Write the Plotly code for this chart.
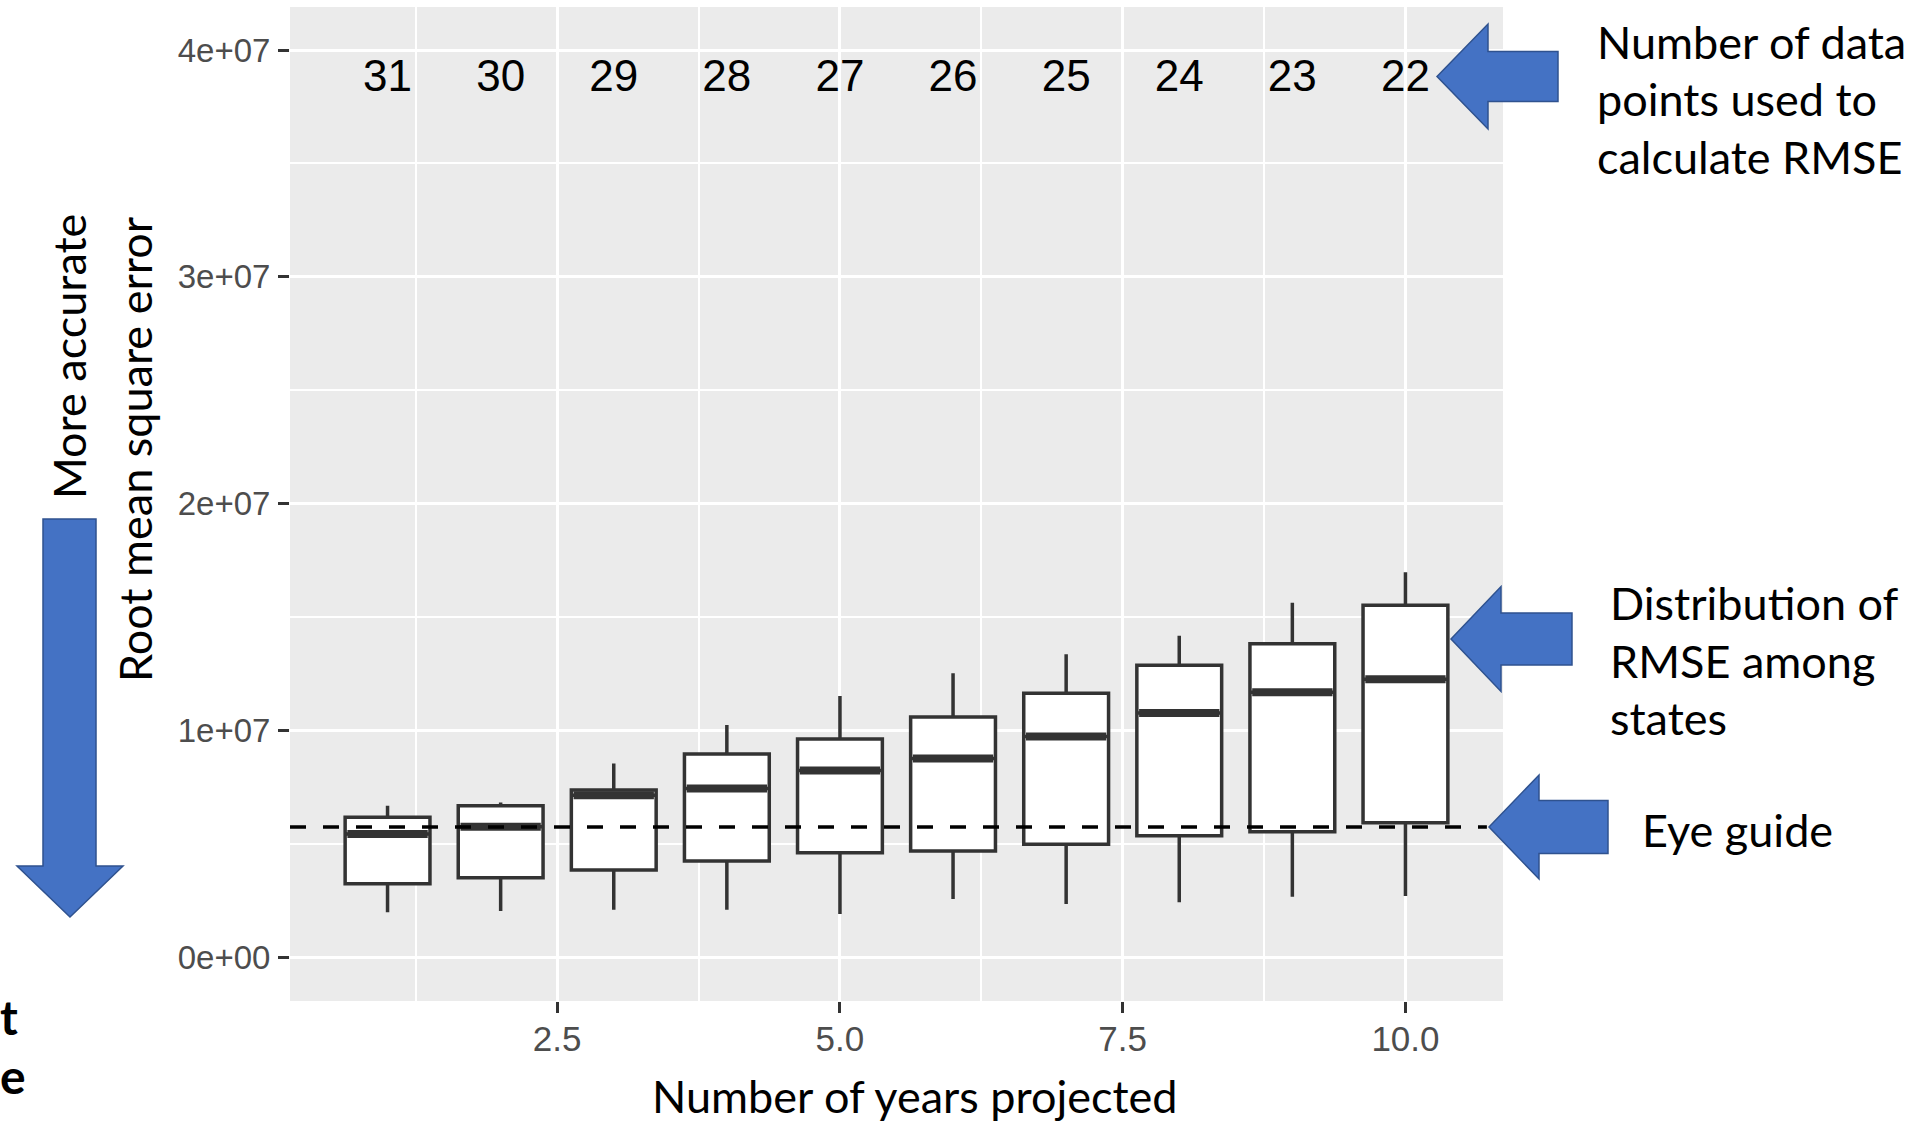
import plotly.graph_objects as go

# Projection horizon (years) and RMSE summary statistics per horizon
years = [1, 2, 3, 4, 5, 6, 7, 8, 9, 10]
n_points = [31, 30, 29, 28, 27, 26, 25, 24, 23, 22]
rmse_lower = [1.97e6, 2.03e6, 2.09e6, 2.09e6, 1.90e6, 2.56e6, 2.34e6, 2.41e6, 2.66e6, 2.69e6]
rmse_q1 = [3.23e6, 3.50e6, 3.84e6, 4.23e6, 4.60e6, 4.68e6, 4.97e6, 5.35e6, 5.53e6, 5.92e6]
rmse_median = [5.43e6, 5.75e6, 7.13e6, 7.43e6, 8.23e6, 8.76e6, 9.73e6, 10.76e6, 11.68e6, 12.25e6]
rmse_q3 = [6.16e6, 6.67e6, 7.37e6, 8.95e6, 9.62e6, 10.59e6, 11.63e6, 12.87e6, 13.82e6, 15.51e6]
rmse_upper = [6.67e6, 6.82e6, 8.54e6, 10.23e6, 11.51e6, 12.51e6, 13.35e6, 14.17e6, 15.63e6, 16.97e6]
eye_guide = 5.73e6
count_label_y = 3.87e7

y_tickvals = [0, 1e7, 2e7, 3e7, 4e7]
y_ticktext = ["0e+00", "1e+07", "2e+07", "3e+07", "4e+07"]
x_tickvals = [2.5, 5.0, 7.5, 10.0]
x_ticktext = ["2.5", "5.0", "7.5", "10.0"]

BOX_W = 0.75
X_RANGE = [0.1375, 10.8625]
Y_RANGE = [-1.94e6, 4.19e7]

# plot-area geometry in page pixels
L, R, T, B = 290, 1503, 7, 1001
W, H = 1918, 1126


def px(x):
    return (x - L) / (R - L)


def py(y):
    return (B - y) / (B - T)


fig = go.Figure()

fig.add_trace(go.Box(
    x=years, q1=rmse_q1, median=rmse_median, q3=rmse_q3,
    lowerfence=rmse_lower, upperfence=rmse_upper,
    width=BOX_W, whiskerwidth=0, boxpoints=False,
    fillcolor="white", line=dict(color="#333333", width=3.5),
    hoverinfo="skip", showlegend=False,
))

# thicker median bars
mx, my = [], []
for x, m in zip(years, rmse_median):
    mx += [x - BOX_W / 2 + 0.02, x + BOX_W / 2 - 0.02, None]
    my += [m, m, None]
fig.add_trace(go.Scatter(x=mx, y=my, mode="lines",
                         line=dict(color="#333333", width=8),
                         hoverinfo="skip", showlegend=False))

# dashed reference line
fig.add_trace(go.Scatter(x=[X_RANGE[0], 10.72], y=[eye_guide, eye_guide], mode="lines",
                         line=dict(color="black", width=3.5, dash="16px,17px"),
                         hoverinfo="skip", showlegend=False))

# sample counts above each box
fig.add_trace(go.Scatter(x=years, y=[count_label_y] * len(years), mode="text",
                         text=[str(n) for n in n_points],
                         textfont=dict(family="Liberation Sans, Arial", size=44, color="black"),
                         hoverinfo="skip", showlegend=False))

grid = dict(showgrid=True, gridcolor="white", zeroline=False, showline=False)
fig.update_xaxes(range=X_RANGE, tickvals=x_tickvals, ticktext=x_ticktext,
                 ticks="outside", ticklen=11, tickwidth=2.5, tickcolor="#333333",
                 gridwidth=3, ticklabelstandoff=-4,
                 tickfont=dict(family="Liberation Sans, Arial", size=35, color="#4D4D4D"),
                 minor=dict(tickvals=[1.25, 3.75, 6.25, 8.75], showgrid=True,
                            gridcolor="white", gridwidth=1.5, ticks=""),
                 **grid)
fig.update_yaxes(range=Y_RANGE, tickvals=y_tickvals, ticktext=y_ticktext,
                 ticks="outside", ticklen=11, tickwidth=2.5, tickcolor="#333333",
                 gridwidth=3, ticklabelstandoff=1,
                 tickfont=dict(family="Liberation Sans, Arial", size=33, color="#4D4D4D"),
                 minor=dict(tickvals=[5e6, 1.5e7, 2.5e7, 3.5e7], showgrid=True,
                            gridcolor="white", gridwidth=1.5, ticks=""),
                 **grid)


def left_arrow(tip_x, tip_y, base_x, head_half, shaft_half, end_x):
    pts = [(tip_x, tip_y), (base_x, tip_y - head_half), (base_x, tip_y - shaft_half),
           (end_x, tip_y - shaft_half), (end_x, tip_y + shaft_half),
           (base_x, tip_y + shaft_half), (base_x, tip_y + head_half)]
    return "M " + " L ".join(f"{px(a):.5f},{py(b):.5f}" for a, b in pts) + " Z"


def down_arrow(x0, x1, top, base_y, hx0, hx1, tip_y):
    pts = [(x0, top), (x1, top), (x1, base_y), (hx1, base_y),
           ((hx0 + hx1) / 2, tip_y), (hx0, base_y), (x0, base_y)]
    return "M " + " L ".join(f"{px(a):.5f},{py(b):.5f}" for a, b in pts) + " Z"


arrow_style = dict(type="path", xref="paper", yref="paper",
                   fillcolor="#4472C4", line=dict(color="#2F528F", width=1.5), layer="above")
shapes = [
    dict(path=left_arrow(1437, 76.5, 1488, 52.5, 25, 1558), **arrow_style),
    dict(path=left_arrow(1451, 639, 1501, 52.5, 26, 1572), **arrow_style),
    dict(path=left_arrow(1489, 827, 1539, 52, 26.5, 1608), **arrow_style),
    dict(path=down_arrow(43, 96, 519, 866, 17, 123, 917), **arrow_style),
]

note_font = dict(family="Lato, Open Sans, sans-serif", size=45, color="black")


def note(text, x, y, anchor="left", angle=0, bold=False, size=None):
    f = dict(note_font)
    if size:
        f["size"] = size
    if bold:
        text = f"<b>{text}</b>"
    return dict(text=text, x=px(x), y=py(y), xref="paper", yref="paper",
                xanchor=anchor, yanchor="middle", showarrow=False,
                textangle=angle, font=f)


annotations = [
    note("Number of data", 1595, 42),
    note("points used to", 1595, 99),
    note("calculate RMSE", 1595, 157),
    note("Distribution of", 1608, 603),
    note("RMSE among", 1608, 661),
    note("states", 1608, 718),
    note("Eye guide", 1640, 830),
    note("More accurate", 69, 357, anchor="center", angle=-90),
    note("Root mean square error", 135, 449, anchor="center", angle=-90),
    note("Number of years projected", 915, 1096, anchor="center"),
    note("t", -2, 1016, bold=True, size=48),
    note("e", -2, 1075, bold=True, size=48),
]

fig.update_layout(
    width=W, height=H,
    margin=dict(l=L, r=W - R, t=T, b=H - B, autoexpand=False),
    paper_bgcolor="white", plot_bgcolor="#EBEBEB",
    shapes=shapes, annotations=annotations,
    showlegend=False,
)

fig.write_html("out.html")
